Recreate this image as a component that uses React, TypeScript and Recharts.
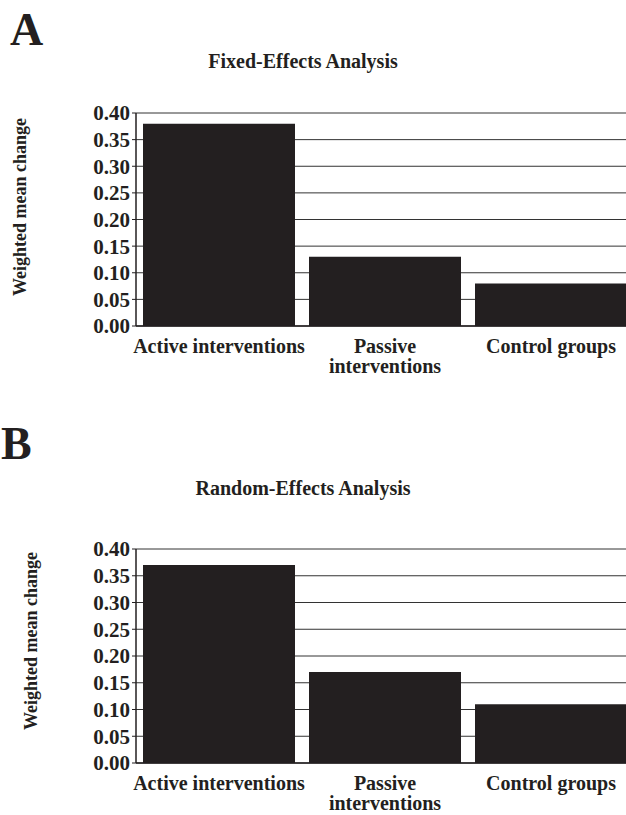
import React from 'react';
import { BarChart, Bar, XAxis, YAxis, CartesianGrid } from 'recharts';

const categories = ['Active interventions', 'Passive\ninterventions', 'Control groups'];
const fixedValues = [0.38, 0.13, 0.08];
const randomValues = [0.37, 0.17, 0.11];
const yTicks = [0, 0.05, 0.1, 0.15, 0.2, 0.25, 0.3, 0.35, 0.4];

const font = '"Liberation Serif", "Times New Roman", serif';
const ink = '#231f20';
const pad = 16; // room above the plot so the top tick label isn't clipped

const CatTick = (props: any) => {
  const { x, y, payload } = props;
  const lines = String(payload.value).split('\n');
  return (
    <text x={x} y={y} textAnchor="middle" fontFamily={font} fontWeight="bold" fontSize={20} fill={ink}>
      {lines.map((l, i) => (
        <tspan key={i} x={x} dy={i === 0 ? 19 : 20}>{l}</tspan>
      ))}
    </text>
  );
};

function Panel({ top, values, plotH }: { top: number; values: number[]; plotH: number }) {
  const data = categories.map((c, i) => ({ name: c, value: values[i] }));
  return (
    <div style={{ position: 'absolute', left: 0, top: top - pad }}>
      <BarChart width={640} height={pad + plotH + 60} data={data}
        margin={{ top: pad, right: 6, bottom: 0, left: 0 }} barCategoryGap={7}>
        <CartesianGrid vertical={false} stroke="#333" strokeWidth={1} />
        <XAxis dataKey="name" height={60} tickLine={false} axisLine={{ stroke: ink, strokeWidth: 1.5 }}
          tick={<CatTick />} interval={0} />
        <YAxis width={136} domain={[0, 0.4]} ticks={yTicks} interval={0} tickFormatter={(v: number) => v.toFixed(2)}
          tickSize={4} tickLine={{ stroke: ink }} axisLine={{ stroke: ink, strokeWidth: 1.5 }}
          tick={{ fontFamily: font, fontWeight: 'bold', fontSize: 21, fill: ink }} />
        <Bar dataKey="value" fill={ink} isAnimationActive={false} />
      </BarChart>
    </div>
  );
}

const textStyle: React.CSSProperties = {
  position: 'absolute', fontFamily: font, fontWeight: 'bold', color: ink, whiteSpace: 'nowrap',
};

export default function App() {
  return (
    <div style={{ position: 'absolute', left: 0, top: 0, width: 626, height: 815, overflow: 'hidden', background: '#fff' }}>
      <div style={{ ...textStyle, left: 10, top: 4, fontSize: 46, lineHeight: '52px' }}>A</div>
      <div style={{ ...textStyle, left: 303, top: 49, fontSize: 20, lineHeight: '24px', transform: 'translateX(-50%)' }}>
        Fixed-Effects Analysis
      </div>
      <div style={{ ...textStyle, left: 20, top: 207, fontSize: 18, lineHeight: '20px', transform: 'translate(-50%, -50%) rotate(-90deg)' }}>
        Weighted mean change
      </div>
      <Panel top={113} values={fixedValues} plotH={213} />

      <div style={{ ...textStyle, left: 1, top: 418, fontSize: 46, lineHeight: '52px' }}>B</div>
      <div style={{ ...textStyle, left: 303, top: 476, fontSize: 20, lineHeight: '24px', transform: 'translateX(-50%)' }}>
        Random-Effects Analysis
      </div>
      <div style={{ ...textStyle, left: 31, top: 641, fontSize: 18, lineHeight: '20px', transform: 'translate(-50%, -50%) rotate(-90deg)' }}>
        Weighted mean change
      </div>
      <Panel top={549} values={randomValues} plotH={214} />
    </div>
  );
}
